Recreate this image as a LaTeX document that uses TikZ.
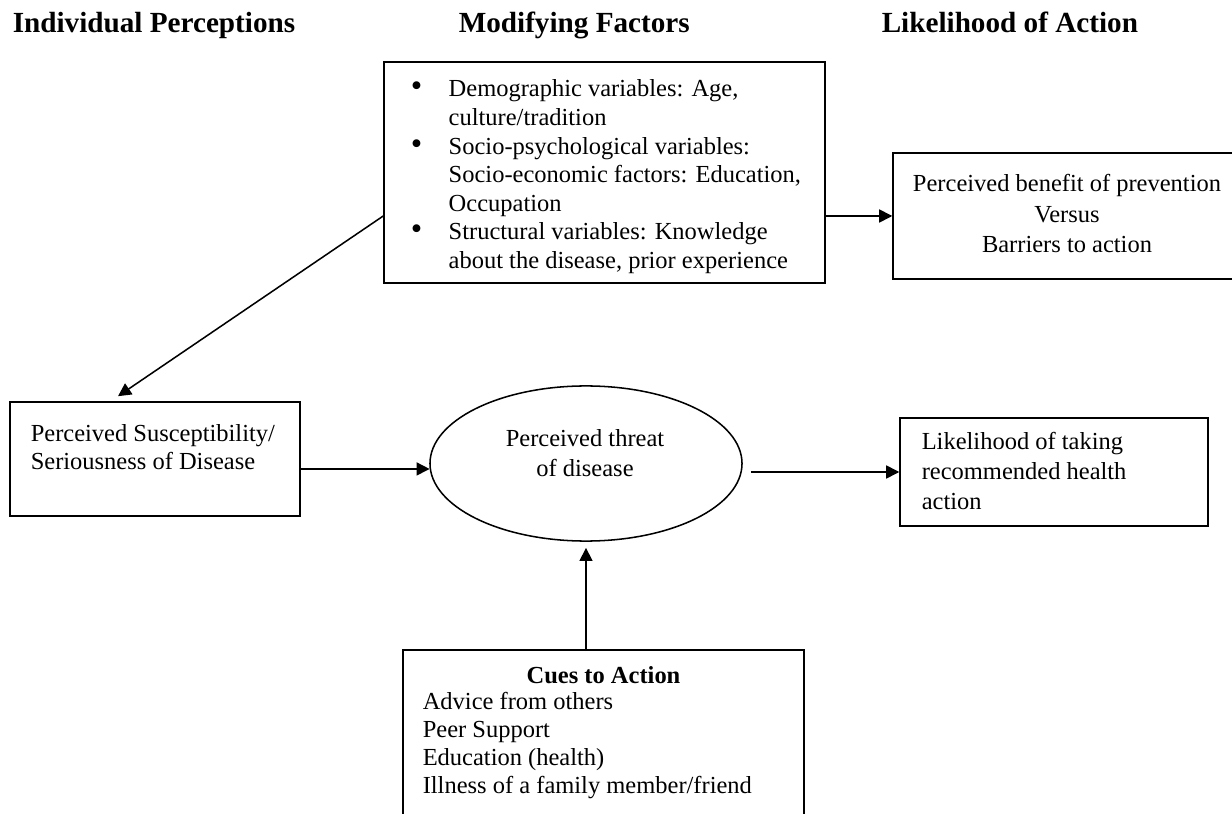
\documentclass[tikz,border=0pt]{standalone}
\usepackage{fontspec}
\setmainfont{Liberation Serif}
\usetikzlibrary{arrows.meta,shapes.geometric}

\begin{document}
\begin{tikzpicture}[x=0.49pt, y=-0.49pt, line width=0.75pt,
    >={Triangle[length=6.4pt,width=6.4pt]},
    every node/.style={font=\fontsize{12pt}{14pt}\selectfont},
    box/.style={draw, inner sep=0pt},
    head/.style={font=\fontsize{14.3pt}{16pt}\selectfont\bfseries, anchor=base west, inner sep=0pt},
    txt/.style={align=left, anchor=base west, inner sep=0pt}]
    \useasboundingbox (0,0) rectangle (1232,814);

    % headings
    \node[head] (hindiv) at (12,33) {Individual Perceptions};
    \node[head] (hmod) at (458,33) {Modifying Factors};
    \node[head] (hlike) at (881,33) {Likelihood of Action};

    % modifying factors
    \node[box, minimum width=216.1pt, minimum height=108.3pt] (modif) at (604.5,172.5) {};
    \node[anchor=base west, inner sep=0pt] (modiftext) at (410,97) {\begin{tabular}[t]{@{}p{18.6pt}@{}l@{}}
        {\fontsize{16pt}{14pt}\selectfont\textbullet} & Demographic variables: Age,\\
                    & culture/tradition\\
        {\fontsize{16pt}{14pt}\selectfont\textbullet} & Socio-psychological variables:\\
                    & Socio-economic factors: Education,\\
                    & Occupation\\
        {\fontsize{16pt}{14pt}\selectfont\textbullet} & Structural variables: Knowledge\\
                    & about the disease, prior experience
      \end{tabular}};

    \node[box, minimum width=170.5pt, minimum height=61.7pt] (benefit) at (1067,216) {};
    \node[align=center, anchor=base, inner sep=0pt, font=\fontsize{12pt}{15pt}\selectfont] (benefittext) at (1067,253)
      {Perceived benefit of prevention\\ Versus\\ Barriers to action};

    % middle row
    \node[box, minimum width=142.1pt, minimum height=55.9pt] (susc) at (155,459) {};
    \node[txt] (susctext) at (30,470) {Perceived Susceptibility/\\ Seriousness of Disease};

    \node[draw, ellipse, minimum width=152.9pt, minimum height=76pt, inner sep=0pt] (threat) at (586,463.5) {};
    \node[align=center, anchor=base, inner sep=0pt, font=\fontsize{12pt}{15pt}\selectfont] (threattext) at (585,477)
      {Perceived threat\\ of disease};

    \node[box, minimum width=150.9pt, minimum height=52.9pt] (like) at (1054,472) {};
    \node[txt, font=\fontsize{12pt}{14.7pt}\selectfont] (liketext) at (921,510)
      {Likelihood of taking\\ recommended health\\ action};

    % cues
    \node[box, minimum width=196.5pt, minimum height=90pt] (cues) at (603.5,742) {};
    \node[anchor=base, inner sep=0pt, font=\fontsize{12pt}{14pt}\selectfont\bfseries] (cueshead) at (603.5,683) {Cues to Action};
    \node[txt, font=\fontsize{12pt}{13.6pt}\selectfont] (cueslist) at (422,793)
      {Advice from others\\ Peer Support\\ Education (health)\\ Illness of a family member/friend};

    % arrows
    \draw[->] (modif.west |- benefit.west) -- ([shift={(-37,-5)}]susc.north);
    \draw[->] (modif.east |- benefit.west) -- (benefit.west);
    \draw[->] (susc.east |- threat.182) -- (threat.182);
    \draw[->, shorten <=4pt] (threat.east |- like.west) -- (like.west);
    \draw[->, shorten >=3pt] (threat.south |- cues.north) -- (threat.south);
\end{tikzpicture}
\end{document}
